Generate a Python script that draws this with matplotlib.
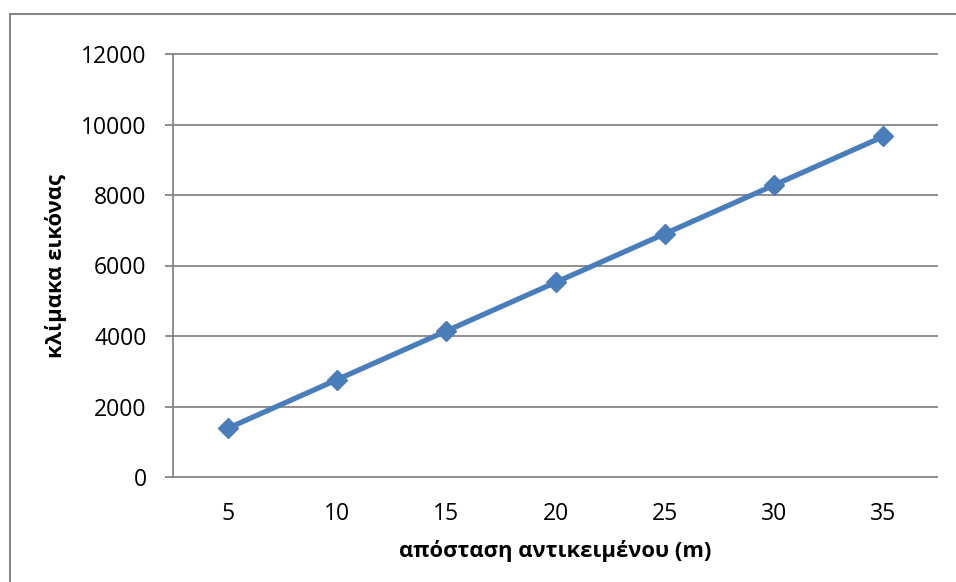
import matplotlib
matplotlib.use("Agg")
import matplotlib.pyplot as plt
from matplotlib.patches import Rectangle

# object distance (m) vs image scale
distance = [5, 10, 15, 20, 25, 30, 35]
scale = [1380, 2760, 4140, 5520, 6900, 8280, 9660]
y_ticks = [0, 2000, 4000, 6000, 8000, 10000, 12000]

FONT = ['Open Sans', 'DejaVu Sans']
plt.rcParams['font.family'] = FONT

GRID = '#868686'
BLUE = '#4A7EBB'

fig = plt.figure(figsize=(9.56, 5.82), dpi=100)
fig.patch.set_facecolor('white')

# chart frame (runs past the right and bottom edges)
fig.patches.append(Rectangle((9.5 / 956, -0.05), 1.2, 1 - 14 / 582 + 0.05,
                             transform=fig.transFigure, fill=False,
                             edgecolor=GRID, linewidth=1.5))

ax = fig.add_axes([173 / 956, 1 - 477 / 582, 765 / 956, 423 / 582])

pos = list(range(len(distance)))
ax.plot(pos, scale, color=BLUE, linewidth=3.8, marker='D', markersize=10.5,
        markerfacecolor=BLUE, markeredgecolor=BLUE, zorder=3)

ax.set_xlim(-0.5, len(distance) - 0.5)
ax.set_ylim(0, 12000)
ax.set_yticks(y_ticks)
ax.set_xticks(pos)
ax.set_xticklabels([str(d) for d in distance])

for y in y_ticks:
    ax.plot([-0.574, 6.5], [y, y], color=GRID, linewidth=1.3,
            clip_on=False, zorder=1, solid_capstyle='butt')

for s in ['top', 'right', 'bottom']:
    ax.spines[s].set_visible(False)
ax.spines['left'].set_color(GRID)
ax.spines['left'].set_linewidth(1.3)

ax.tick_params(axis='y', length=0, pad=19, labelsize=16.5)
ax.tick_params(axis='x', length=0, pad=18, labelsize=16.5)

ax.set_xlabel('απόσταση αντικειμένου (m)', fontsize=15.8, fontweight='bold',
              labelpad=10)
ax.set_ylabel('κλίμακα εικόνας', fontsize=15.8, fontweight='bold', labelpad=10)

fig.savefig('out.png', dpi=100)
